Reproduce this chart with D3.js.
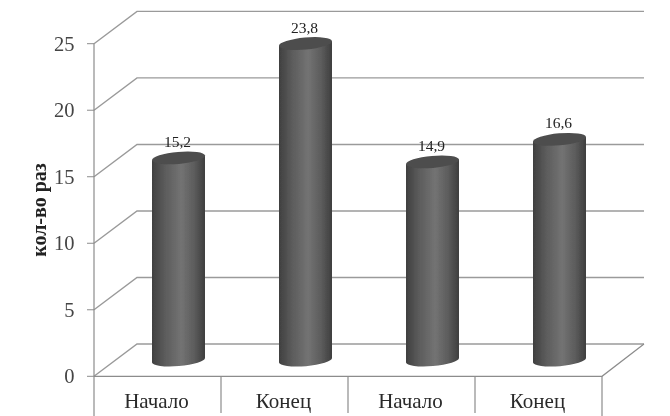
<!DOCTYPE html>
<html><head><meta charset="utf-8">
<script src="https://cdn.jsdelivr.net/npm/d3@7"></script>
<style>html,body{margin:0;padding:0;background:#fff}svg{display:block}text{font-family:"Liberation Serif",serif}</style>
</head><body><svg id="c" width="670" height="416"></svg>
<script>
const categories = ["Начало","Конец","Начало","Конец"];
const barIds = ["a","b","c","d"];
const values = [15.2,23.8,14.9,16.6];
const valueLabels = ["15,2","23,8","14,9","16,6"];
const yTicks = [0,5,10,15,20,25];
const yTitle = "кол-во раз";

const svg = d3.select("#c");
const depth = {x:43, y:-32.3};
const y = d3.scaleLinear().domain([0,25]).range([376.3,43.7]);
const x = d3.scaleBand().domain(barIds).range([94,602]);
const gridColor = "#9a9a9a", axisColor="#8c8c8c";

const defs = svg.append("defs");
const grad = defs.append("linearGradient").attr("id","cyl");
[[0,"#404040"],[0.25,"#5c5c5c"],[0.55,"#737373"],[0.8,"#5c5c5c"],[1,"#3e3e3e"]]
  .forEach(([o,c])=>grad.append("stop").attr("offset",o).attr("stop-color",c));
defs.append("filter").attr("id","soft").append("feGaussianBlur").attr("stdDeviation",0.35);

const root = svg.append("g").attr("filter","url(#soft)");
yTicks.forEach(t=>{
  const px=y(t);
  root.append("path").attr("fill","none").attr("stroke",gridColor).attr("stroke-width",1.4)
    .attr("d",`M94,${px}L${94+depth.x},${px+depth.y}H${602+depth.x-1}`);
  root.append("line").attr("x1",87).attr("x2",94).attr("y1",px).attr("y2",px).attr("stroke",axisColor);
});
root.append("path").attr("fill","none").attr("stroke",axisColor).attr("stroke-width",1.2)
  .attr("d",`M94,${y(0)}H602L${602+depth.x-1},${y(0)+depth.y}`);
root.append("line").attr("x1",94).attr("x2",94).attr("y1",y(25)).attr("y2",416).attr("stroke",axisColor).attr("stroke-width",1.2);
x.domain().forEach((d,i)=>{
  const sx=x(d)+x.bandwidth();
  root.append("line").attr("x1",sx).attr("x2",sx).attr("y1",y(0)).attr("y2",i===3?416:413).attr("stroke",axisColor).attr("stroke-width",1.2);
});
root.selectAll(".yt").data(yTicks).join("text").attr("class","yt")
  .attr("x",74.5).attr("y",d=>y(d)+7).attr("text-anchor","end")
  .attr("font-size",20.5).attr("fill","#444").text(d=>d);
root.append("text").attr("transform","translate(46,210) rotate(-90)")
  .attr("text-anchor","middle").attr("font-size",20).attr("font-weight","bold").attr("fill","#222").text(yTitle);
root.selectAll(".ct").data(categories).join("text").attr("class","ct")
  .attr("x",(d,i)=>x(barIds[i])+x.bandwidth()/2-1).attr("y",408).attr("text-anchor","middle")
  .attr("font-size",21).attr("fill","#2a2a2a").text(d=>d);

const rx=26.6, ry=6, tilt=-5, barShift=21;
const cos=Math.cos(tilt*Math.PI/180), sin=Math.sin(tilt*Math.PI/180);
values.forEach((v,i)=>{
  const cx=x(barIds[i])+x.bandwidth()/2+barShift;
  const top=y(v)+depth.y/2, base=y(0)+depth.y/2;
  const lx=cx-rx*cos, rxp=cx+rx*cos;
  const g=root.append("g");
  g.append("path").attr("fill","url(#cyl)")
   .attr("d",`M${lx},${top-rx*sin}L${lx},${base-rx*sin}A${rx},${ry} ${tilt} 0 0 ${rxp},${base+rx*sin}L${rxp},${top+rx*sin}Z`);
  g.append("ellipse").attr("cx",cx).attr("cy",top).attr("rx",rx).attr("ry",ry)
   .attr("transform",`rotate(${tilt} ${cx} ${top})`).attr("fill","#4d4d4d");
  root.append("text").attr("x",cx-1).attr("y",top-11).attr("text-anchor","middle")
   .attr("font-size",15.5).attr("fill","#222").text(valueLabels[i]);
});
</script></body></html>
